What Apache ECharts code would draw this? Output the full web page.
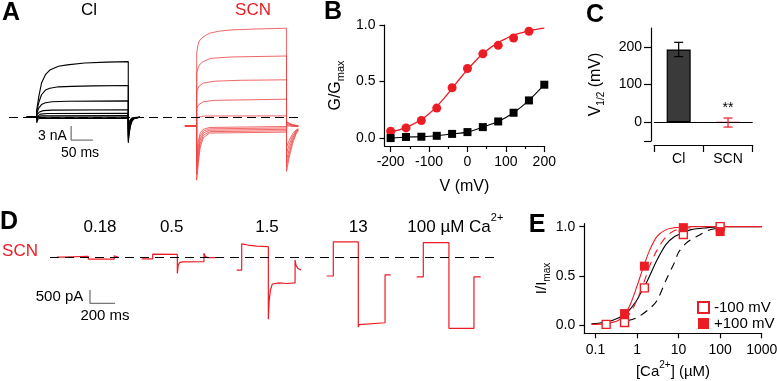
<!DOCTYPE html>
<html>
<head>
<meta charset="utf-8">
<script src="https://cdn.jsdelivr.net/npm/echarts@6/dist/echarts.min.js"></script>
<style>html,body{margin:0;padding:0;background:#fff}#main{width:777px;height:381px}</style>
</head>
<body>
<div id="main"></div>
<script>
// ---- panel A: current traces, [time ms, current nA] ----
var clTraces = [
  [[-23,0],[0,0],[0,1.5],[5,4.5],[11,7.3],[20,9.1],[30,10.1],[50,10.9],[70,11.2],[110,11.6],[160,11.8],[210,11.9],[210,-5.5],[212,-3.6],[215,-1.9],[219,-0.8],[225,-0.2],[237,0]],
  [[-23,0],[0,0],[0,1.2],[5,3.2],[11,4.8],[20,5.8],[30,6.2],[50,6.5],[80,6.6],[130,6.7],[210,6.8],[210,-5.0],[212,-3.2],[215,-1.6],[219,-0.6],[225,-0.15],[237,0]],
  [[-23,0],[0,0],[0,0.8],[5,2.0],[11,2.7],[20,3.1],[35,3.3],[70,3.4],[210,3.5],[210,-4.4],[212,-2.8],[215,-1.4],[219,-0.5],[225,-0.1],[237,0]],
  [[-23,0],[0,0],[0,0.5],[6,1.1],[15,1.4],[35,1.5],[210,1.6],[210,-3.8],[212,-2.4],[215,-1.2],[219,-0.4],[225,-0.1],[237,0]],
  [[-23,0],[0,0],[0,0.3],[8,0.65],[25,0.8],[210,0.85],[210,-3.2],[212,-2.0],[215,-1.0],[220,-0.3],[237,0]],
  [[-23,0],[0,0],[0,0.1],[10,0.3],[210,0.35],[210,-2.6],[212,-1.6],[215,-0.8],[220,-0.2],[237,0]],
  [[-23,0],[0,0],[0,-0.6],[3,0],[210,0.05],[210,-2.0],[213,-1.1],[217,-0.4],[237,0]],
  [[-23,0],[0,0],[0,-1.2],[3,-0.4],[8,-0.25],[210,-0.25],[210,-1.5],[213,-0.8],[218,-0.2],[237,0]]
];
var scnTraces = [
  [[-27,-1.86],[0,-1.86],[0,13.7],[3,15.5],[6,16.3],[11,16.9],[20,17.5],[30,18.0],[50,18.4],[80,18.7],[140,18.9],[206,19.05],[206,-11.6],[212,-8.6],[220,-5.6],[228,-3.6],[233,-2.9]],
  [[-27,-1.86],[0,-1.86],[0,9.4],[4,10.8],[8,11.4],[15,11.9],[32,12.6],[80,12.9],[206,13.1],[206,-10.4],[212,-7.8],[220,-5.0],[228,-3.3],[233,-2.8]],
  [[-27,-1.86],[0,-1.86],[0,5.5],[5,6.6],[15,7.3],[40,7.7],[100,7.9],[206,8.0],[206,-9.2],[212,-6.9],[220,-4.5],[228,-3.1],[233,-2.7]],
  [[-27,-1.86],[0,-1.86],[0,1.9],[5,2.7],[15,3.3],[40,3.6],[206,3.85],[206,-7.8],[212,-5.9],[220,-4.0],[228,-2.9],[233,-2.6]],
  [[-27,-1.86],[0,-1.86],[0,-0.4],[5,0.05],[20,0.25],[206,0.28],[206,-6.4],[212,-5.0],[220,-3.5],[228,-2.7],[233,-2.5]],
  [[-27,-1.86],[0,-1.86],[0,-8.0],[4,-5.0],[8,-3.4],[15,-2.6],[30,-2.2],[206,-2.0],[206,-1.0],[212,-1.4],[220,-1.7],[233,-1.86]],
  [[-27,-1.86],[0,-1.86],[0,-9.5],[4,-6.2],[8,-4.1],[15,-3.0],[30,-2.5],[206,-2.3],[206,-0.9],[212,-1.3],[220,-1.6],[233,-1.86]],
  [[-27,-1.86],[0,-1.86],[0,-11.0],[4,-7.4],[8,-4.9],[15,-3.4],[30,-2.8],[206,-2.6],[206,-1.2],[212,-1.5],[220,-1.7],[233,-1.9]],
  [[-27,-1.86],[0,-1.86],[0,-12.2],[4,-8.5],[8,-5.7],[15,-3.9],[30,-3.1],[206,-2.9],[206,-1.5],[212,-1.7],[220,-1.85],[233,-1.95]],
  [[-27,-1.86],[0,-1.86],[0,-13.5],[4,-9.6],[8,-6.5],[15,-4.4],[30,-3.4],[206,-3.2],[206,-1.8],[212,-1.9],[220,-2.0],[233,-2.0]]
];
var scaleBarA = {t: 79, i: -4.9, dt: 50, di: 3};   // 50 ms, 3 nA

// ---- panel B: G/Gmax vs V ----
var bVolts   = [-200, -160, -120, -80, -40, 0, 40, 80, 120, 160, 200];
var bClG     = [0.0, 0.01, 0.012, 0.02, 0.037, 0.053, 0.097, 0.147, 0.224, 0.333, 0.472];
var bScnV    = [-200, -160, -120, -80, -40, 0, 40, 80, 120, 160];
var bScnG    = [0.06, 0.09, 0.155, 0.265, 0.445, 0.615, 0.745, 0.82, 0.885, 0.945];
var bFitV    = [-200, -180, -160, -140, -120, -100, -80, -60, -40, -20, 0, 20, 40, 60, 80, 100, 120, 140, 160, 180, 200];
var bScnFit  = [0.055, 0.07, 0.095, 0.125, 0.165, 0.215, 0.28, 0.355, 0.44, 0.525, 0.605, 0.68, 0.745, 0.8, 0.845, 0.88, 0.91, 0.93, 0.95, 0.962, 0.972];

// ---- panel C: V1/2 ----
var cCats = ['Cl', 'SCN'];
var cMean = [193, -1];
var cErr  = [19, 12];
var cSig  = ['', '**'];

// ---- panel D: SCN currents at different Ca2+ ----
var dLabels = ['0.18', '0.5', '1.5', '13', '100'];
var dTraces = [
  [[-50,0.01],[0,0.01],[0,0.04],[202,0.04],[202,-0.07],[410,-0.07],[410,0.06],[418,0.0],[442,0.0]],
  [[-88,-0.06],[0,-0.06],[0,0.12],[197,0.11],[197,-0.6],[204,-0.3],[214,-0.2],[240,-0.17],[410,-0.16],[410,0.15],[420,0.03],[440,-0.01],[512,-0.01]],
  [[-40,-0.48],[0,-0.48],[0,0.5],[50,0.46],[120,0.42],[213,0.4],[213,-2.32],[220,-1.6],[230,-1.22],[245,-1.0],[300,-0.96],[360,-0.98],[427,-0.96],[427,-0.1],[435,-0.3],[450,-0.42],[475,-0.47]],
  [[-53,-0.7],[0,-0.7],[0,0.58],[200,0.58],[200,-2.61],[206,-2.52],[215,-2.48],[414,-2.45],[414,-0.66],[459,-0.66]],
  [[-53,-0.73],[0,-0.73],[0,0.55],[205,0.55],[205,-2.66],[405,-2.66],[405,-0.73],[459,-0.73]]
];
var scaleBarD = {t: 320, i: -1.725, dt: 200, di: 0.5};  // 200 ms, 500 pA

// ---- panel E: I/Imax vs [Ca2+] ----
var eConc    = [0.18, 0.5, 1.5, 13, 100];
var eNeg100  = [0.01, 0.03, 0.38, 0.92, 1.0];
var ePos100  = [null, 0.12, 0.6, 0.99, 0.95];
var eFitConc = [0.08, 0.15, 0.25, 0.35, 0.5, 0.7, 1, 1.2, 1.5, 2, 3, 5, 8, 13, 20, 50, 100, 1000];
var eFitPos  = [0.01, 0.015, 0.03, 0.05, 0.11, 0.22, 0.4, 0.5, 0.62, 0.76, 0.9, 0.97, 0.99, 0.995, 1.0, 1.0, 1.0, 1.0];
var eFitNeg  = [0.015, 0.03, 0.05, 0.075, 0.11, 0.17, 0.26, 0.32, 0.39, 0.5, 0.66, 0.82, 0.9, 0.94, 0.97, 0.99, 1.0, 1.0];
var eDashConc = [0.5, 0.7, 1, 1.5, 2, 3, 5, 8, 12, 20];
var eDashPos  = [0.06, 0.13, 0.26, 0.45, 0.6, 0.76, 0.9, 0.96, 0.98, 0.99];
var eDashConc2 = [0.6, 1, 2, 3, 5, 8, 10, 15, 20, 30, 50, 100];
var eDashNeg   = [0.05, 0.08, 0.17, 0.25, 0.46, 0.64, 0.74, 0.83, 0.87, 0.91, 0.96, 0.99];

var FONT = 'Liberation Sans, Arial, Helvetica, sans-serif';
var RED = '#ec1c24';
var INK = '#000';

function zip(xs, ys) {
  var out = [];
  for (var i = 0; i < xs.length; i++) if (ys[i] != null) out.push([xs[i], ys[i]]);
  return out;
}

var grids = [], xAxes = [], yAxes = [], series = [];
function addGrid(box, xa, ya) {
  box.outerBoundsMode = 'none';
  box.containLabel = false;
  grids.push(box);
  var gi = grids.length - 1;
  xa.gridIndex = gi; ya.gridIndex = gi;
  xAxes.push(xa); yAxes.push(ya);
  return {g: gi, x: xAxes.length - 1, y: yAxes.length - 1};
}
function hidden(min, max) {
  return {type: 'value', show: false, min: min, max: max};
}
function trace(ax, data, color, width, z) {
  return {type: 'line', xAxisIndex: ax.x, yAxisIndex: ax.y, data: data, symbol: 'none',
    silent: true, z: z || 2, lineStyle: {color: color, width: width}};
}
function scaleBar(ax, sb) {
  return trace(ax, [[sb.t, sb.i + sb.di], [sb.t, sb.i], [sb.t + sb.dt, sb.i]], '#777', 1.3, 3);
}
var lbl = {color: INK, fontFamily: FONT, fontSize: 14};
var nameSt = {color: INK, fontFamily: FONT, fontSize: 16};
var axLine = {show: true, onZero: false, lineStyle: {color: INK, width: 1.2}};
var tickSt = {color: INK, width: 1.2};

// ---- A ----
var aCl   = addGrid({left: 0, top: 0, width: 300, height: 190}, hidden(-84.2, 603.9), hidden(-15.6, 25.1));
var aScn  = addGrid({left: 150, top: 0, width: 150, height: 190}, hidden(-107.1, 236.9), hidden(-15.6, 25.1));
var aZero = addGrid({left: 9, top: 0, width: 289, height: 190}, hidden(0, 1), hidden(-15.6, 25.1));
clTraces.forEach(function (d) { series.push(trace(aCl, d, '#000', 1.1, 3)); });
scnTraces.forEach(function (d) { series.push(trace(aScn, d, '#ef4040', 0.8, 3)); });
series.push(scaleBar(aCl, scaleBarA));
series.push({type: 'line', xAxisIndex: aZero.x, yAxisIndex: aZero.y, data: [], silent: true,
  markLine: {symbol: 'none', silent: true, label: {show: false}, animation: false,
    lineStyle: {color: '#000', type: [9, 5], width: 1.2}, data: [{yAxis: 0}]}});

// ---- B ----
var bAx = addGrid({left: 384.5, top: 25, width: 159.8, height: 121},
  {type: 'value', min: -216, max: 200, axisLine: axLine,
   axisTick: {show: true, length: 6, lineStyle: tickSt, customValues: [-200, -100, 0, 100, 200]},
   axisLabel: Object.assign({customValues: [-200, -100, 0, 100, 200], margin: 9}, lbl),
   splitLine: {show: false}, name: 'V (mV)', nameLocation: 'middle', nameGap: 33, nameTextStyle: nameSt},
  {type: 'value', min: -0.07, max: 1, axisLine: axLine,
   axisTick: {show: true, length: 5, lineStyle: tickSt, customValues: [0, 0.5, 1]},
   axisLabel: Object.assign({customValues: [0, 0.5, 1], margin: 9, formatter: function (v) { return v.toFixed(1); }}, lbl),
   splitLine: {show: false}, name: '{n|G/G}{s|max}', nameLocation: 'middle', nameRotate: 90, nameGap: 38,
   nameTextStyle: {rich: {n: {fontSize: 16, fontFamily: FONT, color: INK, verticalAlign: 'middle'},
     s: {fontSize: 11, fontFamily: FONT, color: INK, verticalAlign: 'bottom', padding: [10, 0, 0, 0]}}}});
xAxes.push({gridIndex: bAx.g, type: 'value', position: 'bottom', min: -216, max: 200,
  axisLine: {show: false, onZero: false}, axisLabel: {show: false}, splitLine: {show: false},
  axisTick: {show: true, length: 3, lineStyle: tickSt, customValues: [-150, -50, 50, 150]}});
series.push({type: 'line', xAxisIndex: bAx.x, yAxisIndex: bAx.y, data: zip(bFitV, bScnFit), symbol: 'none',
  smooth: 0.4, silent: true, z: 3, lineStyle: {color: RED, width: 1.3}});
series.push({type: 'scatter', xAxisIndex: bAx.x, yAxisIndex: bAx.y, data: zip(bScnV, bScnG), symbol: 'circle',
  symbolSize: 9, silent: true, z: 4, itemStyle: {color: RED, opacity: 1}});
series.push({type: 'line', xAxisIndex: bAx.x, yAxisIndex: bAx.y, data: zip(bVolts, bClG), symbol: 'rect',
  symbolSize: 8, showSymbol: true, smooth: 0.25, silent: true, z: 4,
  lineStyle: {color: '#000', width: 1.1}, itemStyle: {color: '#000', opacity: 1}});

// ---- C ----
var cAx = addGrid({left: 654, top: 28, width: 98.7, height: 113},
  {type: 'category', data: cCats, offset: 4, axisLine: axLine,
   axisTick: {show: true, length: 7, alignWithLabel: false, lineStyle: tickSt},
   axisLabel: Object.assign({margin: 7}, lbl, {fontSize: 14})},
  {type: 'value', min: -50, max: 250, offset: 3, axisLine: axLine,
   axisTick: {show: true, length: 7, lineStyle: tickSt, customValues: [-50, 0, 100, 200]},
   axisLabel: Object.assign({customValues: [0, 100, 200], margin: 9}, lbl),
   splitLine: {show: false}, name: '{n|V}{s|1/2}{n| (mV)}', nameLocation: 'middle', nameRotate: 90, nameGap: 45,
   nameTextStyle: {rich: {n: {fontSize: 16, fontFamily: FONT, color: INK, verticalAlign: 'middle'},
     s: {fontSize: 10, fontFamily: FONT, color: INK, verticalAlign: 'bottom', padding: [10, 0, 0, 0]}}}});
var cColors = ['#3a3a3a', '#fff'];
var cBorders = ['#000', RED];
series.push({type: 'bar', xAxisIndex: cAx.x, yAxisIndex: cAx.y, barWidth: 24, silent: true, z: 3,
  data: cMean.map(function (v, i) {
    return {value: v, itemStyle: {color: cColors[i], borderColor: cBorders[i], borderWidth: 1.2}};
  }),
  markLine: {symbol: 'none', silent: true, label: {show: false}, animation: false,
    lineStyle: {color: '#000', type: 'solid', width: 1.2}, data: [{yAxis: 0}]}});
var cErrColors = ['#000', RED];
series.push({type: 'custom', xAxisIndex: cAx.x, yAxisIndex: cAx.y, silent: true, z: 5,
  encode: {x: 0, y: [1, 2]},
  data: cMean.map(function (v, i) { return [i, v - cErr[i], v + cErr[i]]; }),
  renderItem: function (params, api) {
    var lo = api.coord([api.value(0), api.value(1)]);
    var hi = api.coord([api.value(0), api.value(2)]);
    var c = cErrColors[params.dataIndex];
    var st = {stroke: c, lineWidth: 1.2};
    var kids = [
      {type: 'line', shape: {x1: lo[0], y1: lo[1], x2: hi[0], y2: hi[1]}, style: st},
      {type: 'line', shape: {x1: lo[0] - 4.5, y1: lo[1], x2: lo[0] + 4.5, y2: lo[1]}, style: st},
      {type: 'line', shape: {x1: hi[0] - 4.5, y1: hi[1], x2: hi[0] + 4.5, y2: hi[1]}, style: st}
    ];
    var sig = cSig[params.dataIndex];
    if (sig) kids.push({type: 'text', x: hi[0], y: hi[1] - 10,
      style: {text: sig, fill: INK, font: '14px ' + FONT, align: 'center', verticalAlign: 'middle'}});
    return {type: 'group', children: kids};
  }});

// ---- D ----
var dBase = addGrid({left: 50, top: 203.9, width: 450, height: 173.6}, hidden(0, 3600), hidden(-4.5, 2));
series.push({type: 'line', xAxisIndex: dBase.x, yAxisIndex: dBase.y, data: [], silent: true,
  markLine: {symbol: 'none', silent: true, label: {show: false}, animation: false,
    lineStyle: {color: '#000', type: [9, 6], width: 1.2}, data: [{yAxis: 0}]}});
series.push(scaleBar(dBase, scaleBarD));
var dStepX = [63, 152.7, 241.7, 333.3, 423.3];   // layout: pixel x of each sweep's step onset
dTraces.forEach(function (d, k) {
  var ax = addGrid({left: dStepX[k] - 12.5, top: 203.9, width: 81.25, height: 173.6}, hidden(-100, 550), hidden(-4.5, 2));
  series.push(trace(ax, d, RED, 1.2, 3));
});

// ---- E ----
var eAx = addGrid({left: 584.3, top: 223.7, width: 177.4, height: 109.6},
  {type: 'log', logBase: 10, min: 0.0537, max: 1000, axisLine: axLine,
   axisTick: {show: true, length: 5, lineStyle: tickSt, customValues: [0.1, 1, 10, 100, 1000]},
   axisLabel: Object.assign({customValues: [0.1, 1, 10, 100, 1000], margin: 10,
     formatter: function (v) { return String(+Number(v).toPrecision(3)); }}, lbl),
   minorTick: {show: false}, splitLine: {show: false},
   name: '{n|[Ca}{p|2+}{n|] (µM)}', nameLocation: 'middle', nameGap: 27,
   nameTextStyle: {rich: {n: {fontSize: 15, fontFamily: FONT, color: INK, verticalAlign: 'middle'},
     p: {fontSize: 10, fontFamily: FONT, color: INK, verticalAlign: 'top', padding: [0, 0, 14, 0]}}}},
  {type: 'value', min: -0.08, max: 1.03, axisLine: axLine,
   axisTick: {show: true, length: 5, lineStyle: tickSt, customValues: [0, 0.5, 1]},
   axisLabel: Object.assign({customValues: [0, 0.5, 1], margin: 9, formatter: function (v) { return v.toFixed(1); }}, lbl),
   splitLine: {show: false}, name: '{n|I/I}{s|max}', nameLocation: 'middle', nameRotate: 90, nameGap: 31,
   nameTextStyle: {rich: {n: {fontSize: 15, fontFamily: FONT, color: INK, verticalAlign: 'middle'},
     s: {fontSize: 10, fontFamily: FONT, color: INK, verticalAlign: 'bottom', padding: [10, 0, 0, 0]}}}});
function eLine(data, color, dashed) {
  return {type: 'line', xAxisIndex: eAx.x, yAxisIndex: eAx.y, data: data, symbol: 'none', smooth: 0.3,
    silent: true, z: 3, lineStyle: {color: color, width: 1.1, type: dashed ? [8, 6] : 'solid'}};
}
series.push(eLine(zip(eFitConc, eFitNeg), '#000', false));
series.push(eLine(zip(eDashConc2, eDashNeg), '#000', true));
series.push(eLine(zip(eFitConc, eFitPos), RED, false));
series.push(eLine(zip(eDashConc, eDashPos), RED, true));
series.push({type: 'scatter', name: '-100 mV', xAxisIndex: eAx.x, yAxisIndex: eAx.y, data: zip(eConc, eNeg100),
  symbol: 'rect', symbolSize: 8, silent: true, z: 5,
  itemStyle: {color: '#fff', borderColor: RED, borderWidth: 1.4, opacity: 1}});
series.push({type: 'scatter', name: '+100 mV', xAxisIndex: eAx.x, yAxisIndex: eAx.y, data: zip(eConc, ePos100),
  symbol: 'rect', symbolSize: 9, silent: true, z: 5, itemStyle: {color: RED, opacity: 1}});

// ---- free text ----
function txt(x, y, text, size, opts) {
  var st = {text: text, fontSize: size, fontFamily: FONT, fill: INK, align: 'center', verticalAlign: 'middle'};
  for (var k in (opts || {})) st[k] = opts[k];
  return {type: 'text', x: x, y: y, silent: true, style: st};
}
var bold = {fontWeight: 'bold'};
var graphics = [
  txt(11, 13, 'A', 25, bold), txt(333, 12, 'B', 25, bold), txt(595, 15, 'C', 25, bold),
  txt(9, 222, 'D', 25, bold), txt(537, 225, 'E', 25, bold),
  txt(89, 10, 'Cl', 17), txt(253, 10, 'SCN', 17, {fill: RED}),
  txt(52.5, 136.5, '3 nA', 14), txt(80, 153.5, '50 ms', 14),
  txt(20, 251.5, 'SCN', 17, {fill: RED}),
  txt(59.5, 296.5, '500 pA', 15), txt(105, 316, '200 ms', 15)
];
var dLabelX = [100, 171.7, 267, 358.3];
for (var k = 0; k < 4; k++) graphics.push(txt(dLabelX[k], 227.7, dLabels[k], 17));
graphics.push(txt(407.3, 227.7, '{n|' + dLabels[4] + ' µM Ca}{p|2+}', 17, {align: 'left',
  rich: {n: {fontSize: 17, fontFamily: FONT, fill: INK, verticalAlign: 'middle'},
         p: {fontSize: 11, fontFamily: FONT, fill: INK, verticalAlign: 'top', padding: [0, 0, 20, 0]}}}));

var chart = echarts.init(document.getElementById('main'));
chart.setOption({
  animation: false,
  backgroundColor: '#fff',
  grid: grids,
  xAxis: xAxes,
  yAxis: yAxes,
  legend: {data: ['-100 mV', '+100 mV'], orient: 'vertical', left: 697, top: 300, itemWidth: 11, itemHeight: 11,
    itemGap: 1, selectedMode: false, padding: 0, textStyle: {fontSize: 15, fontFamily: FONT, color: INK}},
  graphic: graphics,
  series: series
});
</script>
</body>
</html>
